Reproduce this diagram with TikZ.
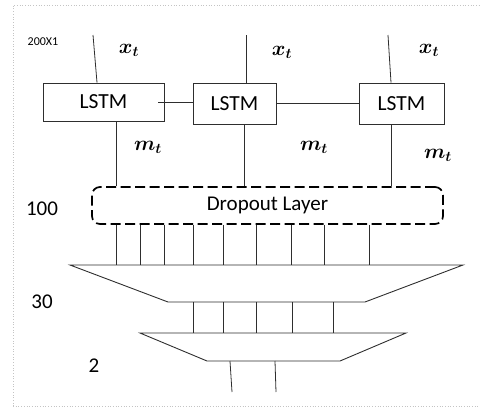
\documentclass[tikz,border=0pt]{standalone}
\usepackage{fontspec}
\setmainfont{Carlito}
\usetikzlibrary{positioning}
\definecolor{LineGray}{HTML}{2E2E2E}
\definecolor{FrameGray}{HTML}{C4C4C4}

\begin{document}
\begin{tikzpicture}[x=1pt, y=-1pt,
    cell/.style={draw=LineGray, line width=0.9pt, font=\fontsize{21.5}{24}\selectfont, inner sep=0pt},
    droplayer/.style={draw=black, line width=1.7pt, dash pattern=on 10pt off 4.5pt, rounded corners=8pt, font=\fontsize{21}{24}\selectfont, inner sep=0pt},
    wire/.style={draw=LineGray, line width=0.8pt},
    lbl/.style={font=\fontsize{21}{24}\selectfont, inner sep=0pt},
    mlbl/.style={font=\fontsize{21}{24}\selectfont\boldmath, inner sep=0pt}
  ]
    \useasboundingbox (0,0) rectangle (480,407);
    \draw[FrameGray, dotted, line width=0.7pt] (13,406) -- (13,5) -- (480,5);
    \draw[FrameGray, dotted, line width=0.7pt] (13,406) -- (480,406);

    % LSTM cells
    \node[cell, minimum width=121pt, minimum height=38pt] (lstmA) at (103.5,102) {LSTM};
    \node[cell, minimum width=83pt, minimum height=41pt] (lstmB) at (234.5,103.5) {LSTM};
    \node[cell, minimum width=85pt, minimum height=41pt] (lstmC) at (401.5,103.5) {LSTM};

    \draw[wire] ([xshift=-6pt]lstmA.east) -- (lstmA.east -| lstmB.west);
    \draw[wire] (lstmB.east) -- (lstmB.east -| lstmC.west);

    % inputs
    \coordinate (inA) at (93,35);
    \coordinate (inB) at (246,35);
    \coordinate (inC) at (388,35);
    \draw[wire] (inA) -- ([xshift=-6.5pt]lstmA.north);
    \draw[wire] (inB) -- ([xshift=11.5pt]lstmB.north);
    \draw[wire] (inC) -- ([xshift=-10.5pt]lstmC.north);

    \node[mlbl] (xA) at (129,50) {$x_t$};
    \node[mlbl] (xB) at (282,52) {$x_t$};
    \node[mlbl] (xC) at (429,50) {$x_t$};
    \node[font=\fontsize{12}{14}\selectfont, inner sep=0pt] (dimIn) at (43,42) {200X1};

    % dropout layer
    \node[droplayer, minimum width=351pt, minimum height=37pt] (drop) at (267.5,205.5) {Dropout Layer};

    \draw[wire] ([xshift=12.5pt]lstmA.south) coordinate (oA) -- (oA |- drop.north);
    \draw[wire] ([xshift=9.5pt]lstmB.south) coordinate (oB) -- (oB |- drop.north);
    \draw[wire] ([xshift=-10.5pt]lstmC.south) coordinate (oC) -- (oC |- drop.north);

    \node[mlbl] (mA) at (148,147) {$m_t$};
    \node[mlbl] (mB) at (314,147) {$m_t$};
    \node[mlbl] (mC) at (438,155) {$m_t$};

    % dense layers
    \draw[wire, line width=0.9pt] (70,265) coordinate (fcA) -- (463,265) -- (365,302) -- (168,302) coordinate (fcAbot) -- cycle;
    \draw[wire, line width=0.9pt] (140,333) coordinate (fcB) -- (406,333) -- (340,361) -- (207,361) coordinate (fcBbot) -- cycle;

    \foreach \x in {116,140,164,193,223,256,291,324,369}
      \draw[wire] (drop.south -| \x,0) -- (fcA -| \x,0);
    \foreach \x in {193,223,256,292,333}
      \draw[wire] (fcAbot -| \x,0) -- (fcB -| \x,0);

    \coordinate (outA) at (232,392);
    \coordinate (outB) at (276,392);
    \draw[wire] (fcBbot -| 230,0) -- (outA);
    \draw[wire] (fcBbot -| 275,0) -- (outB);

    \node[lbl] (dimDrop) at (42,209) {100};
    \node[lbl] (dimA) at (42,302) {30};
    \node[lbl] (dimB) at (94,366) {2};
  \end{tikzpicture}
\end{document}
